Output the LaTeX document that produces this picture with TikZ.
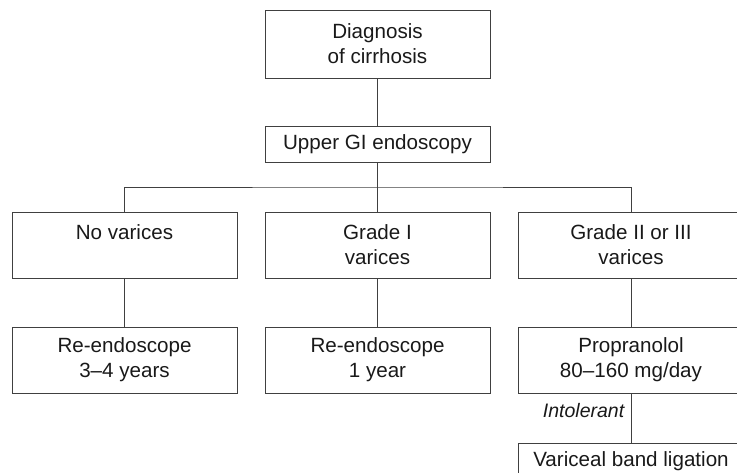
\documentclass[tikz,border=0pt]{standalone}
\usepackage{fontspec}
\setmainfont{Liberation Sans}
\usepackage{tikz}

\begin{document}
\begin{tikzpicture}[
		x=1pt, y=1pt,
		box/.style={rectangle,draw=black!75,line width=0.9pt,text=black!90,
		inner sep=0pt,minimum width=225pt,minimum height=66pt,align=center,
		font=\fontsize{20.6}{25}\selectfont},
		link/.style={draw=black!75,line width=0.9pt}
		]
		\useasboundingbox (0,0) rectangle (737,473);
		\node[box, minimum height=68pt] (diag) at (377.5,429) {Diagnosis\\of cirrhosis};
		\node[box, minimum height=36pt] (upper) at (377.5,329) {Upper GI endoscopy};
		\node[box] (none) at (124.5,228) {No varices\\\phantom{v}};
		\node[box] (gradeI) at (377.5,228) {Grade I\\varices};
		\node[box] (gradeII) at (631,228) {Grade II or III\\varices};
		\node[box] (reone) at (124.5,113) {Re-endoscope\\3--4 years};
		\node[box] (retwo) at (377.5,113) {Re-endoscope\\1 year};
		\node[box] (prop) at (631,113) {Propranolol\\80--160 mg/day};
		\node[box, minimum height=36pt] (band) at (631,12) {Variceal band ligation};
		\coordinate (split) at (377.5,286);
		\draw[link] (diag.south) -- (upper.north);
		\draw[link] (upper.south) -- (gradeI.north);
		\draw[link] (none.north) |- (split) -| (gradeII.north);
		\draw[link] (none.south) -- (reone.north);
		\draw[link] (gradeI.south) -- (retwo.north);
		\draw[link] (gradeII.south) -- (prop.north);
		\draw[link] (prop.south) -- (band.north)
			node[midway, left, xshift=-3pt, yshift=7pt, text=black!90,
			font=\fontsize{19.5}{22}\selectfont\itshape] (intol) {Intolerant};
	\end{tikzpicture}
\end{document}
